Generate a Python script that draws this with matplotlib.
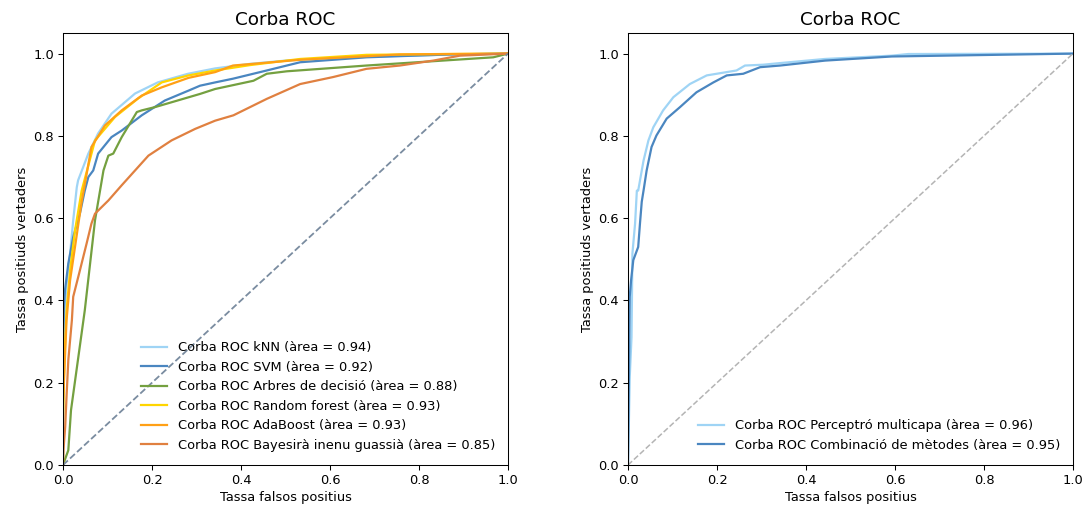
import matplotlib
matplotlib.use("Agg")
import matplotlib.pyplot as plt

# ROC curves (false positive rate, true positive rate) for each classifier
knn_fpr = [0.0, 0.0, 0.002, 0.004, 0.008, 0.016, 0.023, 0.031, 0.034, 0.057, 0.079, 0.109, 0.162, 0.213, 0.281, 0.342, 0.42, 0.5, 0.6, 0.7, 0.85, 1.0]
knn_tpr = [0.0, 0.15, 0.30, 0.38, 0.44, 0.514, 0.595, 0.675, 0.692, 0.757, 0.806, 0.854, 0.903, 0.930, 0.951, 0.964, 0.975, 0.983, 0.989, 0.993, 0.997, 1.0]

svm_fpr = [0.0, 0.0, 0.002, 0.0045, 0.012, 0.023, 0.038, 0.049, 0.057, 0.068, 0.079, 0.109, 0.132, 0.177, 0.229, 0.282, 0.308, 0.342, 0.382, 0.458, 0.533, 0.682, 0.87, 1.0]
svm_tpr = [0.0, 0.30, 0.38, 0.425, 0.490, 0.554, 0.611, 0.667, 0.700, 0.716, 0.757, 0.797, 0.813, 0.850, 0.886, 0.910, 0.922, 0.930, 0.939, 0.959, 0.979, 0.991, 0.998, 1.0]

tree_fpr = [0.0, 0.012, 0.018, 0.049, 0.072, 0.091, 0.102, 0.113, 0.132, 0.166, 0.177, 0.207, 0.308, 0.342, 0.428, 0.458, 0.503, 0.682, 0.967, 1.0]
tree_tpr = [0.0, 0.036, 0.133, 0.376, 0.595, 0.716, 0.752, 0.757, 0.797, 0.858, 0.862, 0.870, 0.902, 0.914, 0.934, 0.951, 0.957, 0.971, 0.991, 1.0]

rf_fpr = [0.0, 0.0, 0.003, 0.008, 0.016, 0.027, 0.042, 0.072, 0.117, 0.169, 0.222, 0.282, 0.342, 0.42, 0.533, 0.682, 0.85, 1.0]
rf_tpr = [0.0, 0.10, 0.25, 0.376, 0.473, 0.570, 0.667, 0.789, 0.846, 0.891, 0.930, 0.947, 0.959, 0.972, 0.987, 0.997, 0.999, 1.0]

ada_fpr = [0.0, 0.0, 0.002, 0.008, 0.016, 0.027, 0.038, 0.042, 0.064, 0.094, 0.132, 0.177, 0.222, 0.282, 0.342, 0.382, 0.533, 0.757, 1.0]
ada_tpr = [0.0, 0.15, 0.20, 0.352, 0.449, 0.530, 0.611, 0.640, 0.773, 0.825, 0.862, 0.898, 0.918, 0.941, 0.955, 0.971, 0.985, 0.998, 1.0]

nb_fpr = [0.0, 0.001, 0.005, 0.008, 0.012, 0.020, 0.023, 0.038, 0.053, 0.064, 0.072, 0.102, 0.132, 0.162, 0.192, 0.244, 0.297, 0.342, 0.383, 0.458, 0.533, 0.607, 0.682, 0.757, 0.832, 0.892, 1.0]
nb_tpr = [0.0, 0.036, 0.093, 0.166, 0.255, 0.352, 0.409, 0.473, 0.538, 0.587, 0.611, 0.643, 0.680, 0.716, 0.752, 0.789, 0.817, 0.837, 0.850, 0.890, 0.926, 0.943, 0.963, 0.971, 0.983, 0.995, 1.0]

mlp_fpr = [0.0, 0.002, 0.004, 0.008, 0.010, 0.016, 0.020, 0.023, 0.035, 0.046, 0.057, 0.079, 0.102, 0.139, 0.177, 0.244, 0.263, 0.304, 0.342, 0.443, 0.593, 0.63, 1.0]
mlp_tpr = [0.0, 0.10, 0.214, 0.311, 0.514, 0.587, 0.667, 0.667, 0.740, 0.789, 0.821, 0.862, 0.894, 0.926, 0.947, 0.959, 0.971, 0.973, 0.977, 0.987, 0.995, 0.999, 1.0]

comb_fpr = [0.0, 0.002, 0.004, 0.007, 0.012, 0.023, 0.027, 0.031, 0.035, 0.042, 0.053, 0.064, 0.087, 0.117, 0.154, 0.192, 0.222, 0.259, 0.297, 0.342, 0.443, 0.593, 1.0]
comb_tpr = [0.0, 0.20, 0.409, 0.449, 0.498, 0.530, 0.587, 0.640, 0.667, 0.716, 0.773, 0.801, 0.842, 0.870, 0.906, 0.930, 0.947, 0.951, 0.967, 0.971, 0.983, 0.993, 1.0]

left_labels = [
    "Corba ROC kNN (àrea = 0.94)",
    "Corba ROC SVM (àrea = 0.92)",
    "Corba ROC Arbres de decisió (àrea = 0.88)",
    "Corba ROC Random forest (àrea = 0.93)",
    "Corba ROC AdaBoost (àrea = 0.93)",
    "Corba ROC Bayesirà inenu guassià (àrea = 0.85)",
]
right_labels = [
    "Corba ROC Perceptró multicapa (àrea = 0.96)",
    "Corba ROC Combinació de mètodes (àrea = 0.95)",
]
ticks = [0.0, 0.2, 0.4, 0.6, 0.8, 1.0]
tick_labels = ["0.0", "0.2", "0.4", "0.6", "0.8", "1.0"]

left_colors = ["#9fd4f5", "#4a86c0", "#74a040", "#ffd500", "#ffa015", "#e08040"]
right_colors = ["#9fd4f5", "#4a86c0"]

FS = 9.4
plt.rcParams["font.family"] = ["DejaVu Sans"]

fig = plt.figure(figsize=(10.84, 5.09), dpi=100)
ax1 = fig.add_axes([0.0581, 0.0864, 0.4105, 0.8487])
ax2 = fig.add_axes([0.5793, 0.0864, 0.4105, 0.8487])

left_curves = [(knn_fpr, knn_tpr), (svm_fpr, svm_tpr), (tree_fpr, tree_tpr),
               (rf_fpr, rf_tpr), (ada_fpr, ada_tpr), (nb_fpr, nb_tpr)]
for (f, t), lab, c in zip(left_curves, left_labels, left_colors):
    ax1.plot(f, t, color=c, lw=1.6, label=lab)
ax1.plot([0, 1], [0, 1], color="#7a8ca0", lw=1.3, ls="--")

right_curves = [(mlp_fpr, mlp_tpr), (comb_fpr, comb_tpr)]
for (f, t), lab, c in zip(right_curves, right_labels, right_colors):
    ax2.plot(f, t, color=c, lw=1.6, label=lab)
ax2.plot([0, 1], [0, 1], color="#b4b4b4", lw=1.1, ls="--")

for ax in (ax1, ax2):
    ax.set_xlim(0.0, 1.0)
    ax.set_ylim(0.0, 1.05)
    ax.set_xticks(ticks)
    ax.set_xticklabels(tick_labels, fontsize=FS)
    ax.set_yticks(ticks)
    ax.set_yticklabels(tick_labels, fontsize=FS)
    ax.set_xlabel("Tassa falsos positius", fontsize=FS, labelpad=3)
    ax.set_ylabel("Tassa positiuds vertaders", fontsize=FS, labelpad=3)
    ax.set_title("Corba ROC", fontsize=13.2, pad=6)
    ax.tick_params(length=3.3, width=0.75, pad=3)
    for s in ax.spines.values():
        s.set_linewidth(0.75)
    ax.legend(loc="lower right", frameon=False, fontsize=FS, handlelength=2.0,
              borderaxespad=0.6)

fig.savefig("out.png", dpi=100)
